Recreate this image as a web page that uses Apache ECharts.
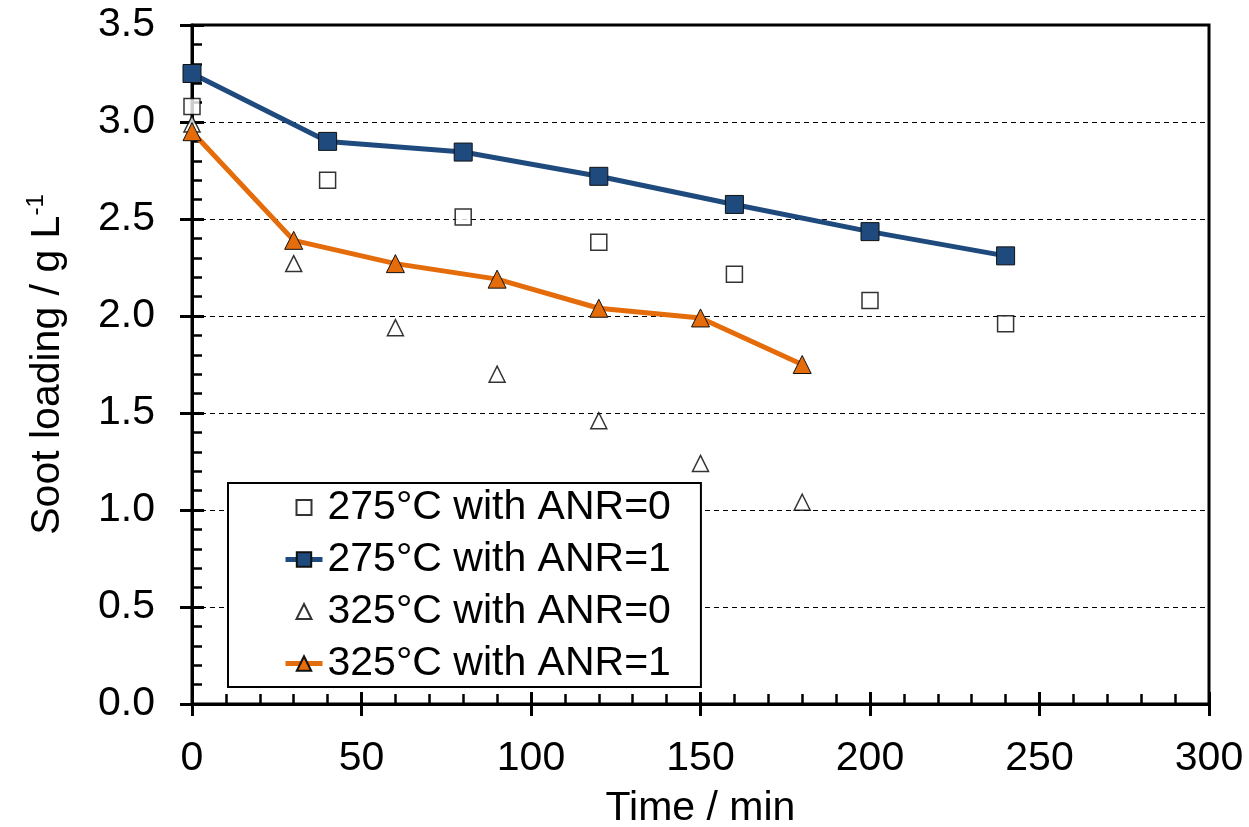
<!DOCTYPE html>
<html><head><meta charset="utf-8">
<script src="https://cdn.jsdelivr.net/npm/echarts@6/dist/echarts.min.js"></script>
<style>html,body{margin:0;padding:0;background:#fff}#c{width:1249px;height:827px}</style>
</head><body><div id="c"></div>
<script>
const times275 = [0, 40, 80, 120, 160, 200, 240];
const soot275_ANR0 = [3.08, 2.70, 2.51, 2.38, 2.215, 2.08, 1.96];
const soot275_ANR1 = [3.25, 2.90, 2.845, 2.72, 2.575, 2.435, 2.31];
const times325 = [0, 30, 60, 90, 120, 150, 180];
const soot325_ANR0 = [2.99, 2.27, 1.94, 1.70, 1.46, 1.24, 1.04];
const soot325_ANR1 = [2.95, 2.39, 2.27, 2.19, 2.04, 1.99, 1.75];
const seriesNames = ['275°C with ANR=0', '275°C with ANR=1', '325°C with ANR=0', '325°C with ANR=1'];
const xTitle = 'Time / min';
const yTitle = 'Soot loading / g L';
const ySup = '-1';

const FONT = 'Liberation Sans, Arial, sans-serif';
const FS = 41;
const BLUE = '#1F4A7E';
const ORANGE = '#E46C0A';
const SQUARE_ICON = 'path://M-1,-1M11,11M0,0L10,0L10,10L0,10Z';
const TRIANGLE_ICON = 'path://M-1,-1M11,11M5,0L10,10L0,10Z';
const pair = (xs, ys) => xs.map((x, i) => [x, ys[i]]);

const chart = echarts.init(document.getElementById('c'));
chart.setOption({
  animation: false,
  backgroundColor: '#fff',
  textStyle: { fontFamily: FONT },
  grid: { left: 192, right: 40, top: 25, bottom: 123, outerBoundsMode: 'none', containLabel: false,
    show: true, borderColor: '#000', borderWidth: 3, backgroundColor: 'transparent' },
  legend: {
    orient: 'vertical', left: 228, top: 483,
    padding: [4, 30, 3, 55], itemGap: 11,
    itemWidth: 37, itemHeight: 18,
    symbolKeepAspect: true,
    backgroundColor: '#fff', borderColor: '#000', borderWidth: 2,
    lineStyle: { width: 5 },
    textStyle: { fontSize: FS, lineHeight: FS, color: '#000', fontFamily: FONT },
    data: [
      { name: seriesNames[0], icon: SQUARE_ICON },
      { name: seriesNames[1] },
      { name: seriesNames[2], icon: TRIANGLE_ICON },
      { name: seriesNames[3] }
    ]
  },
  xAxis: [{
    type: 'value', min: 0, max: 300, interval: 50, position: 'bottom',
    name: xTitle, nameLocation: 'middle', nameGap: 84,
    nameTextStyle: { fontSize: FS, color: '#000', fontFamily: FONT },
    axisLine: { onZero: false, lineStyle: { color: '#000', width: 3 } },
    axisTick: { show: true, inside: true, length: 12, lineStyle: { color: '#000', width: 3 } },
    minorTick: { show: true, splitNumber: 5, length: 10, lineStyle: { color: '#000', width: 2.5 } },
    axisLabel: { fontSize: FS, color: '#000', margin: 34, fontFamily: FONT },
    splitLine: { show: false }
  }, {
    type: 'value', min: 0, max: 300, interval: 50, position: 'bottom',
    axisLine: { show: false, onZero: false },
    axisTick: { show: true, inside: false, length: 12, lineStyle: { color: '#000', width: 3 } },
    axisLabel: { show: false }, splitLine: { show: false }
  }],
  yAxis: [{
    type: 'value', min: 0, max: 3.5, interval: 0.5, position: 'left',
    name: '{a|' + yTitle + '}{s|' + ySup + '}', nameLocation: 'middle', nameGap: 124, nameRotate: 90,
    nameTextStyle: {
      color: '#000', fontFamily: FONT,
      rich: {
        a: { fontSize: FS, lineHeight: FS, color: '#000', fontFamily: FONT },
        s: { fontSize: 24, lineHeight: 24, color: '#000', fontFamily: FONT, padding: [0, 0, 22, 0] }
      }
    },
    axisLine: { onZero: false, lineStyle: { color: '#000', width: 3 } },
    axisTick: { show: true, inside: true, length: 12, lineStyle: { color: '#000', width: 3 } },
    minorTick: { show: true, splitNumber: 5, length: 10, lineStyle: { color: '#000', width: 2.5 } },
    axisLabel: { fontSize: FS, color: '#000', margin: 37, fontFamily: FONT, formatter: v => v.toFixed(1) },
    splitLine: { show: true, lineStyle: { color: '#000', width: 1, type: [5, 4] } }
  }, {
    type: 'value', min: 0, max: 3.5, interval: 0.5, position: 'left',
    axisLine: { show: false, onZero: false },
    axisTick: { show: true, inside: false, length: 12, lineStyle: { color: '#000', width: 3 } },
    axisLabel: { show: false }, splitLine: { show: false }
  }],
  series: [
    {
      name: seriesNames[0], type: 'scatter', data: pair(times275, soot275_ANR0),
      symbol: 'rect', symbolSize: 16,
      itemStyle: { color: '#fff', borderColor: '#000', borderWidth: 1.5 }
    },
    {
      name: seriesNames[1], type: 'line', data: pair(times275, soot275_ANR1),
      symbol: 'rect', symbolSize: 18, showAllSymbol: true,
      lineStyle: { color: BLUE, width: 5 },
      itemStyle: { color: BLUE, borderColor: '#111', borderWidth: 1 }
    },
    {
      name: seriesNames[2], type: 'scatter', data: pair(times325, soot325_ANR0),
      symbol: 'triangle', symbolSize: 16,
      itemStyle: { color: '#fff', borderColor: '#000', borderWidth: 1.5 }
    },
    {
      name: seriesNames[3], type: 'line', data: pair(times325, soot325_ANR1),
      symbol: 'triangle', symbolSize: 18, showAllSymbol: true,
      lineStyle: { color: ORANGE, width: 5 },
      itemStyle: { color: ORANGE, borderColor: '#111', borderWidth: 1 }
    }
  ]
});
</script>
</body></html>
